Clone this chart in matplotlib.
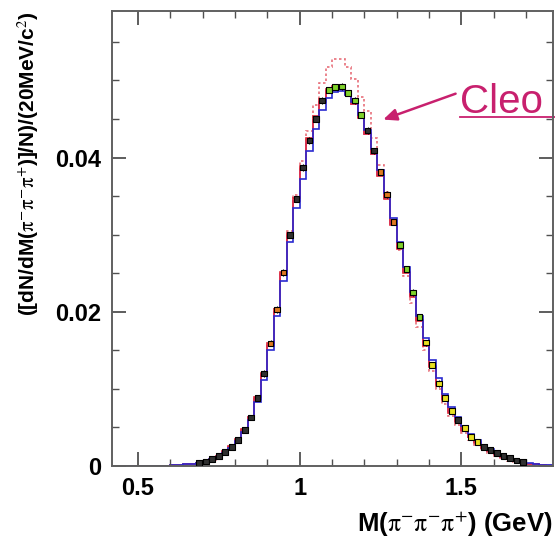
import numpy as np
import matplotlib
matplotlib.use("Agg")
import matplotlib.pyplot as plt
from matplotlib.ticker import MultipleLocator, FixedLocator

plt.rcParams["font.family"] = ["Liberation Sans", "DejaVu Sans"]
plt.rcParams["mathtext.fontset"] = "stix"

# 20 MeV bins from 0.40 to 1.80 GeV
edges = np.round(np.arange(0.40, 1.8001, 0.02), 3)
centers = edges[:-1] + 0.01

# measured spectrum (normalised), one value per bin
data = [0.0000, 0.0000, 0.0000, 0.0000, 0.0000, 0.0000, 0.0000, 0.0000, 0.0000, 0.0000,
        0.0001, 0.0001, 0.0002, 0.0003, 0.0004, 0.0006, 0.0009, 0.0013, 0.0018, 0.0025,
        0.0034, 0.0047, 0.0063, 0.0088, 0.0120, 0.0159, 0.0203, 0.0251, 0.0300, 0.0346,
        0.0387, 0.0422, 0.0450, 0.0474, 0.0488, 0.0491, 0.0492, 0.0484, 0.0474, 0.0455,
        0.0435, 0.0409, 0.0381, 0.0352, 0.0316, 0.0287, 0.0255, 0.0225, 0.0193, 0.0160,
        0.0131, 0.0107, 0.0088, 0.0071, 0.0060, 0.0049, 0.0038, 0.0031, 0.0025, 0.0021,
        0.0017, 0.0013, 0.0010, 0.0007, 0.0005, 0.0003, 0.0002, 0.0001, 0.0001, 0.0000]
data_err = [0.0004 if v > 0.01 else 0.0002 for v in data]

mc_blue = [0.0000, 0.0000, 0.0000, 0.0000, 0.0000, 0.0000, 0.0000, 0.0000, 0.0000, 0.0000,
           0.0001, 0.0001, 0.0002, 0.0003, 0.0004, 0.0006, 0.0009, 0.0012, 0.0017, 0.0024,
           0.0032, 0.0044, 0.0060, 0.0083, 0.0112, 0.0150, 0.0195, 0.0240, 0.0290, 0.0335,
           0.0372, 0.0408, 0.0437, 0.0462, 0.0477, 0.0485, 0.0486, 0.0481, 0.0472, 0.0455,
           0.0436, 0.0411, 0.0384, 0.0354, 0.0322, 0.0290, 0.0258, 0.0226, 0.0195, 0.0166,
           0.0138, 0.0114, 0.0094, 0.0077, 0.0063, 0.0052, 0.0042, 0.0034, 0.0027, 0.0022,
           0.0017, 0.0013, 0.0010, 0.0008, 0.0006, 0.0004, 0.0002, 0.0001, 0.0001, 0.0000]

mc_red = [0.0000, 0.0000, 0.0000, 0.0000, 0.0000, 0.0000, 0.0000, 0.0000, 0.0000, 0.0000,
          0.0001, 0.0001, 0.0002, 0.0003, 0.0004, 0.0006, 0.0009, 0.0013, 0.0019, 0.0026,
          0.0035, 0.0048, 0.0064, 0.0089, 0.0121, 0.0160, 0.0204, 0.0252, 0.0302, 0.0348,
          0.0389, 0.0425, 0.0454, 0.0476, 0.0489, 0.0493, 0.0491, 0.0482, 0.0470, 0.0451,
          0.0430, 0.0405, 0.0376, 0.0346, 0.0312, 0.0281, 0.0250, 0.0219, 0.0188, 0.0156,
          0.0128, 0.0104, 0.0085, 0.0069, 0.0057, 0.0046, 0.0037, 0.0030, 0.0024, 0.0019,
          0.0015, 0.0012, 0.0009, 0.0007, 0.0005, 0.0003, 0.0002, 0.0001, 0.0000, 0.0000]

mc_violet = [0.0000, 0.0000, 0.0000, 0.0000, 0.0000, 0.0000, 0.0000, 0.0000, 0.0000, 0.0000,
             0.0001, 0.0001, 0.0002, 0.0003, 0.0004, 0.0006, 0.0009, 0.0013, 0.0018, 0.0025,
             0.0034, 0.0047, 0.0063, 0.0087, 0.0118, 0.0156, 0.0200, 0.0248, 0.0297, 0.0343,
             0.0384, 0.0420, 0.0449, 0.0472, 0.0486, 0.0490, 0.0489, 0.0481, 0.0470, 0.0452,
             0.0431, 0.0405, 0.0377, 0.0347, 0.0314, 0.0283, 0.0251, 0.0220, 0.0189, 0.0158,
             0.0130, 0.0106, 0.0087, 0.0071, 0.0058, 0.0047, 0.0038, 0.0031, 0.0025, 0.0020,
             0.0016, 0.0012, 0.0009, 0.0007, 0.0005, 0.0003, 0.0002, 0.0001, 0.0001, 0.0000]

cleo = [0.0000, 0.0000, 0.0000, 0.0000, 0.0000, 0.0000, 0.0000, 0.0000, 0.0000, 0.0000,
        0.0000, 0.0001, 0.0001, 0.0002, 0.0003, 0.0005, 0.0008, 0.0012, 0.0017, 0.0024,
        0.0033, 0.0046, 0.0062, 0.0087, 0.0119, 0.0158, 0.0203, 0.0253, 0.0305, 0.0352,
        0.0395, 0.0435, 0.0468, 0.0497, 0.0517, 0.0528, 0.0528, 0.0517, 0.0502, 0.0478,
        0.0460, 0.0425, 0.0390, 0.0355, 0.0318, 0.0280, 0.0246, 0.0212, 0.0180, 0.0150,
        0.0123, 0.0100, 0.0081, 0.0065, 0.0053, 0.0043, 0.0034, 0.0027, 0.0021, 0.0017,
        0.0013, 0.0010, 0.0007, 0.0005, 0.0004, 0.0002, 0.0001, 0.0001, 0.0000, 0.0000]

x_ticks = [0.5, 1.0, 1.5]
x_tick_labels = ["0.5", "1", "1.5"]
y_ticks = [0.0, 0.02, 0.04]
y_tick_labels = ["0", "0.02", "0.04"]

fig = plt.figure(figsize=(5.55, 5.39), dpi=100)
ax = fig.add_axes([0.2018, 0.1354, 0.7946, 0.8442])

ax.stairs(cleo, edges, color="#e8707a", lw=1.2, ls=(0, (1.5, 1.5)))
ax.stairs(mc_violet, edges, color="#b050c8", lw=1.2)
ax.stairs(mc_red, edges, color="#e02a3a", lw=1.2)
ax.stairs(mc_blue, edges, color="#2a2ad0", lw=1.2)

# data points: black-framed squares, fill colour varies between overlaid samples
face = []
for c in centers:
    if 1.08 < c < 1.2 or 1.3 < c < 1.38:
        face.append("#7fd12a")
    elif 1.38 < c < 1.48 or 1.5 < c < 1.56:
        face.append("#e8e020")
    elif 0.9 < c < 0.96 or 1.24 < c < 1.3:
        face.append("#e07a20")
    else:
        face.append("#303030")
mask = np.array(data) > 0.00035
ax.errorbar(centers[mask], np.array(data)[mask], yerr=np.array(data_err)[mask],
            fmt="none", ecolor="black", elinewidth=0.8, capsize=0, zorder=4)
ax.scatter(centers[mask], np.array(data)[mask], marker="s", s=17,
           c=[f for f, m in zip(face, mask) if m], edgecolors="black",
           linewidths=0.8, zorder=5)

ax.set_xlim(0.42, 1.783)
ax.set_ylim(0, 0.059)
ax.xaxis.set_major_locator(FixedLocator(x_ticks))
ax.set_xticklabels(x_tick_labels)
ax.yaxis.set_major_locator(FixedLocator(y_ticks))
ax.set_yticklabels(y_tick_labels)
ax.xaxis.set_minor_locator(MultipleLocator(0.1))
ax.yaxis.set_minor_locator(MultipleLocator(0.005))
ax.tick_params(which="both", direction="in", top=True, right=True,
               color="#505050", labelsize=17, pad=8)
ax.tick_params(which="major", length=10, width=1.3)
ax.tick_params(which="minor", length=5, width=1.0)
for lab in ax.get_xticklabels() + ax.get_yticklabels():
    lab.set_fontweight("bold")
for s in ax.spines.values():
    s.set_color("#606060")
    s.set_linewidth(1.4)

pis = r"$\mathrm{\pi^{-}\pi^{-}\pi^{+}}$"
ax.set_xlabel("M(" + pis + ") (GeV)", loc="right",
              fontsize=18.5, fontweight="bold", labelpad=7)
ax.set_ylabel("([dN/dM(" + pis + ")]/N)/(20MeV/c$^{2}$)", loc="top",
              fontsize=15, fontweight="bold", labelpad=10)

cleo_col = "#c8206e"
ax.text(1.497, 0.0458, "Cleo", color=cleo_col, fontsize=29,
        ha="left", va="baseline")
ax.plot([1.497, 1.79], [0.0452, 0.0452], color=cleo_col, lw=1.3, clip_on=False)
ax.annotate("", xy=(1.25, 0.0448), xytext=(1.49, 0.0484),
            arrowprops=dict(arrowstyle="-|>,head_length=0.8,head_width=0.35",
                            color=cleo_col, lw=1.8))

fig.savefig("out.png", dpi=100)
